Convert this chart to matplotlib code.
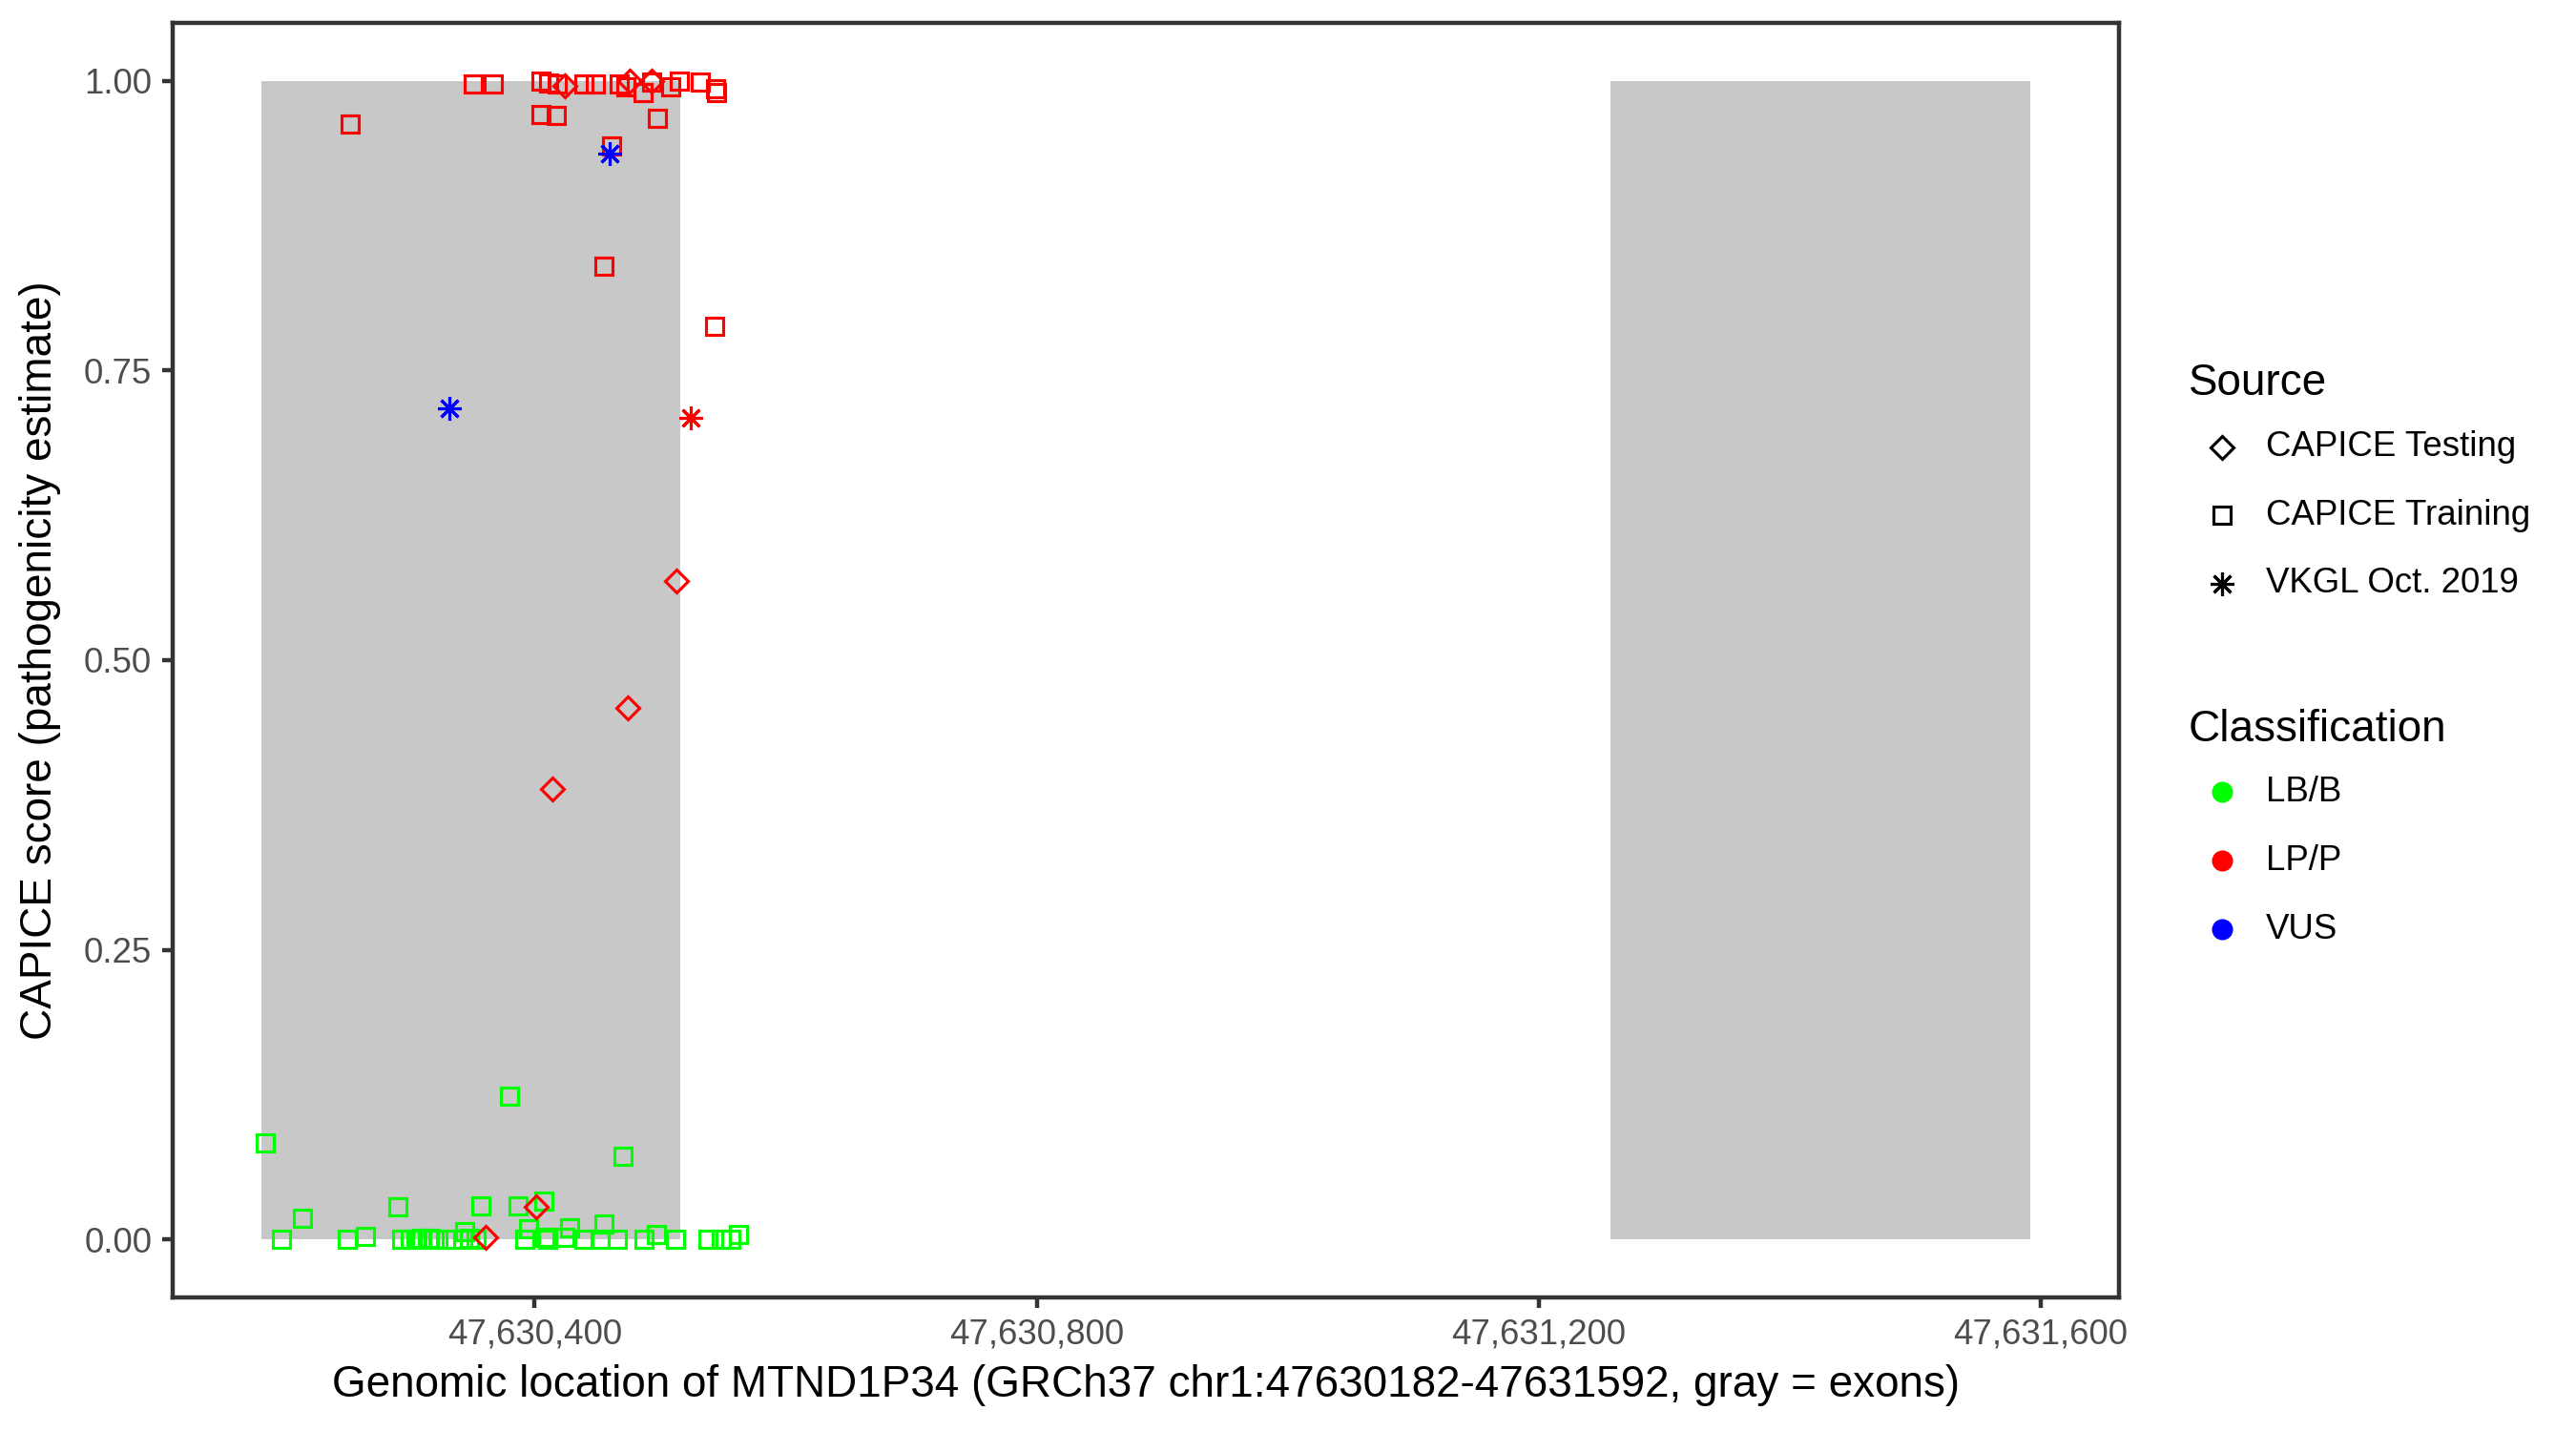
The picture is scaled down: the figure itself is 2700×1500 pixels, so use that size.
import matplotlib
matplotlib.use("Agg")
import matplotlib.pyplot as plt
from matplotlib.patches import Rectangle
from matplotlib.lines import Line2D
from matplotlib.ticker import FuncFormatter

plt.rcParams["font.family"] = ["Liberation Sans", "DejaVu Sans"]

# =================================
# DATA
# =================================

# exons of MTND1P34 (gray boxes)
exon_start = [47630182, 47631257]
exon_end = [47630516, 47631592]

# CAPICE Training, LP/P
train_lp_pos = [47630253, 47630351, 47630367, 47630405, 47630411, 47630418,
                47630439, 47630448, 47630467, 47630473, 47630486, 47630493,
                47630508, 47630515, 47630532, 47630544, 47630545, 47630405,
                47630417, 47630498, 47630461, 47630455, 47630543]
train_lp_score = [0.963, 0.997, 0.997, 1.000, 0.998, 0.997,
                  0.997, 0.997, 0.997, 0.995, 0.990, 0.999,
                  0.995, 1.000, 0.999, 0.993, 0.990, 0.971,
                  0.970, 0.968, 0.944, 0.840, 0.788]

# CAPICE Training, LB/B
train_lb_pos = [47630185, 47630215, 47630198, 47630291, 47630251, 47630265,
                47630294, 47630301, 47630305, 47630310, 47630316, 47630320,
                47630323, 47630329, 47630344, 47630343, 47630348, 47630353,
                47630357, 47630380, 47630387, 47630407, 47630395, 47630392,
                47630408, 47630410, 47630424, 47630428, 47630439, 47630455,
                47630452, 47630466, 47630470, 47630487, 47630497, 47630512,
                47630538, 47630549, 47630556, 47630562]
train_lb_score = [0.083, 0.018, 0.000, 0.028, 0.000, 0.003,
                  0.000, 0.000, 0.000, 0.001, 0.001, 0.000,
                  0.000, 0.000, 0.007, 0.000, 0.001, 0.000,
                  0.029, 0.124, 0.029, 0.033, 0.009, 0.000,
                  0.002, 0.000, 0.002, 0.010, 0.000, 0.013,
                  0.000, 0.000, 0.072, 0.000, 0.004, 0.000,
                  0.000, 0.000, 0.000, 0.004]

# CAPICE Testing, LP/P
test_lp_pos = [47630424, 47630476, 47630493, 47630513, 47630474, 47630414,
               47630401, 47630361]
test_lp_score = [0.996, 1.000, 1.000, 0.568, 0.459, 0.389, 0.028, 0.002]

# VKGL Oct. 2019
vkgl_lp_pos = [47630524]
vkgl_lp_score = [0.709]
vkgl_vus_pos = [47630460, 47630332]
vkgl_vus_score = [0.9375, 0.717]

# =================================
# STYLE
# =================================

col_lb = "#00FF00"
col_lp = "#FF0000"
col_vus = "#0000FF"
star = (8, 2, 0)

W, H = 2700, 1500
fig = plt.figure(figsize=(9, 5), dpi=300)
ax = fig.add_axes([181 / W, 1 - 1360 / H, 2040 / W, 1336 / H])

# =================================
# EXONS + POINTS
# =================================

for s, e in zip(exon_start, exon_end):
    ax.add_patch(Rectangle((s, 0), e - s, 1, facecolor="#C8C8C8",
                           edgecolor="none", zorder=0))

pt = dict(linestyle="none", markerfacecolor="none", markeredgewidth=0.75)
ax.plot(train_lb_pos, train_lb_score, marker="s", markersize=4.1,
        markeredgecolor=col_lb, **pt)
ax.plot(train_lp_pos, train_lp_score, marker="s", markersize=4.1,
        markeredgecolor=col_lp, **pt)
ax.plot(test_lp_pos, test_lp_score, marker="D", markersize=4.2,
        markeredgecolor=col_lp, **pt)
ax.plot(vkgl_lp_pos, vkgl_lp_score, marker=star, markersize=6,
        markeredgecolor=col_lp, **pt)
ax.plot(vkgl_vus_pos, vkgl_vus_score, marker=star, markersize=6,
        markeredgecolor=col_vus, **pt)

# ggplot-like 5% expansion
xmin, xmax = min(exon_start), max(exon_end)
pad = 0.05 * (xmax - xmin)
ax.set_xlim(xmin - pad, xmax + pad)
ax.set_ylim(-0.05, 1.05)

# =================================
# AXES
# =================================

ax.set_xticks([47630400, 47630800, 47631200, 47631600])
ax.xaxis.set_major_formatter(FuncFormatter(lambda v, p: f"{int(v):,}"))
ax.set_yticks([0, 0.25, 0.5, 0.75, 1.0])
ax.yaxis.set_major_formatter(FuncFormatter(lambda v, p: f"{v:.2f}"))

ax.tick_params(length=2.75, width=1.07, color="#333333", labelsize=8.8,
               labelcolor="#4D4D4D", pad=2.5)
for sp in ax.spines.values():
    sp.set_color("#333333")
    sp.set_linewidth(1.07)

ax.set_xlabel("Genomic location of MTND1P34 (GRCh37 chr1:47630182-47631592, gray = exons)",
              fontsize=11)
ax.xaxis.set_label_coords(0.5, (1360 - 1452) / 1336)
ax.xaxis.label.set_va("center")
ax.set_ylabel("CAPICE score (pathogenicity estimate)", fontsize=11)
ax.yaxis.set_label_coords((42 - 181) / 2040, 0.5)
ax.yaxis.label.set_va("center")

# =================================
# LEGENDS
# =================================

def fx(x):
    return x / W

def fy(y):
    return 1 - y / H

fig.text(fx(2294), fy(414), "Source", fontsize=11, va="baseline")
src = [("CAPICE Testing", "D", 4.2, 469),
       ("CAPICE Training", "s", 4.3, 540),
       ("VKGL Oct. 2019", star, 6.0, 612)]
for lab, m, ms, y in src:
    fig.add_artist(Line2D([fx(2329)], [fy(y)], marker=m, markersize=ms,
                          markerfacecolor="none", markeredgecolor="black",
                          markeredgewidth=0.75, linestyle="none",
                          transform=fig.transFigure))
    fig.text(fx(2375), fy(y), lab, fontsize=8.8, va="center")

fig.text(fx(2294), fy(777), "Classification", fontsize=11, va="baseline")
cls = [("LB/B", col_lb, 830), ("LP/P", col_lp, 902), ("VUS", col_vus, 974)]
for lab, c, y in cls:
    fig.add_artist(Line2D([fx(2329)], [fy(y)], marker="o", markersize=4.3,
                          markerfacecolor=c, markeredgecolor=c,
                          linestyle="none", transform=fig.transFigure))
    fig.text(fx(2375), fy(y), lab, fontsize=8.8, va="center")

fig.savefig("out.png", dpi=300)
